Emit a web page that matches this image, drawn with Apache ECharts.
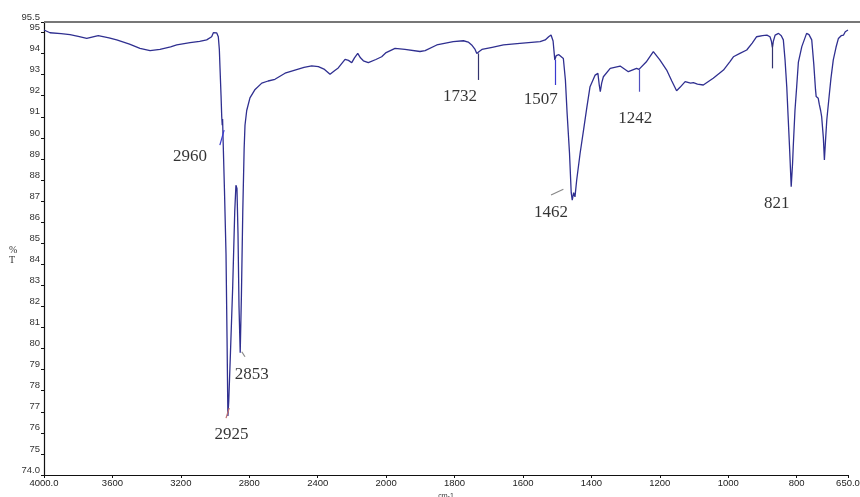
<!DOCTYPE html>
<html>
<head>
<meta charset="utf-8">
<script src="https://cdn.jsdelivr.net/npm/echarts@6/dist/echarts.min.js"></script>
<style>html,body{margin:0;padding:0;background:#fff}#c{width:860px;height:497px}</style>
</head>
<body>
<div id="c"></div>
<script>
// wavenumber (cm-1)
var wavenumbers = [4000,3965,3900,3848,3800,3750,3683,3620,3575,3500,3439,3380,3322,3260,3224,3146,3090,3049,3020,3010,2999,2990,2981,2975,2971,2965,2961,2958,2956,2953,2945,2936,2930,2925,2920,2910,2897,2885,2878,2872,2866,2860,2853,2846,2838,2830,2825,2815,2796,2766,2727,2690,2650,2591,2533,2480,2435,2396,2360,2328,2300,2280,2240,2220,2201,2185,2166,2150,2133,2104,2060,2026,2000,1974,1945,1901,1886,1852,1804,1774,1760,1750,1740,1735,1728,1720,1690,1657,1609,1550,1535,1525,1518,1512,1507,1503,1495,1490,1482,1476,1471,1464,1459,1456,1452,1448,1443,1433,1423,1413,1404,1389,1381,1377,1374,1370,1365,1345,1316,1292,1268,1261,1240,1219,1200,1180,1165,1151,1141,1126,1110,1102,1090,1073,1044,1014,995,985,966,946,930,917,900,887,878,874,871,868,863,853,845,839,834,829,825,821,816,812,810,805,800,795,785,771,764,756,750,745,743,740,737,734,730,727,722,719,716,712,705,700,693,685,678,670,663,660,658,654,650];
// transmittance (%T)
var transmittance = [95.12,94.99,94.95,94.90,94.82,94.72,94.85,94.75,94.65,94.45,94.25,94.14,94.20,94.32,94.41,94.52,94.58,94.65,94.80,94.99,95.04,94.98,94.80,94.2,93.3,92.0,91.0,90.6,90.9,89.9,87.5,84.5,80.5,76.8,77.5,79.8,82.9,86.5,87.75,87.6,85.5,82.0,79.8,82.5,86.5,89.5,90.6,91.3,91.9,92.3,92.6,92.7,92.78,93.07,93.22,93.35,93.42,93.38,93.25,93.02,93.2,93.32,93.73,93.68,93.57,93.8,94.01,93.8,93.66,93.57,93.72,93.85,94.05,94.25,94.2,94.1,94.14,94.41,94.57,94.61,94.55,94.41,94.2,94.0,94.1,94.2,94.3,94.41,94.49,94.57,94.65,94.8,94.88,94.6,93.7,93.9,93.95,93.93,93.77,92.75,91.17,89.27,87.4,87.05,87.4,87.2,88.0,89.27,90.37,91.48,92.43,92.98,93.06,92.5,92.19,92.6,92.9,93.3,93.41,93.14,93.3,93.25,93.6,94.09,93.7,93.22,92.7,92.24,92.4,92.67,92.6,92.62,92.55,92.51,92.83,93.22,93.62,93.85,94.01,94.17,94.5,94.8,94.85,94.88,94.8,94.6,94.3,94.6,94.88,94.96,94.85,94.65,93.7,92.43,91.0,89.6,87.68,88.8,89.59,91.3,92.43,93.6,94.33,94.96,94.9,94.65,93.5,92.3,91.96,92.0,91.88,91.6,91.3,91.01,90.0,88.95,89.8,90.85,92.0,92.8,93.7,94.3,94.72,94.85,94.88,94.95,95.04,95.0,95.12];

// x tick labels (wavenumbers at which ticks are drawn)
var xTickLabels = [4000,3600,3200,2800,2400,2000,1800,1600,1400,1200,1000,800,650];
// y tick labels
var yTickLabels = [74,75,76,77,78,79,80,81,82,83,84,85,86,87,88,89,90,91,92,93,94,95,95.5];

// peak annotation texts and their anchor (wavenumber, %T)
var peakTexts = ['2960','2853','2925','1732','1507','1242','1462','821'];
var peakTextWn = [3146,2786,2904,1784,1548,1272,1518,858];
var peakTextT  = [89.11,78.75,75.9,91.95,91.80,90.93,86.45,86.9];

// leader / marker segments
var segWn1 = [2972,2825,2936,1518,1732,1507,1261,871];
var segT1  = [89.66,79.61,76.7,87.29,94.01,93.70,93.25,94.49];
var segWn2 = [2947,2844,2917,1482,1732,1507,1261,871];
var segT2  = [90.37,79.85,77.18,87.56,92.75,92.51,92.19,93.30];
var segColor = ['#3a3ad0','#888888','#c07070','#888888','#33336e','#3a3ad0','#5050c0','#33336e'];

// the instrument axis is expanded 2x below 2000 cm-1
function toU(w){ return w >= 2000 ? (4000 - w) / 2 : 1000 + (2000 - w); }
function fromU(u){ return u <= 1000 ? 4000 - 2 * u : 2000 - (u - 1000); }

var lineData = wavenumbers.map(function(w,i){ return [toU(w), transmittance[i]]; });
var textData = peakTexts.map(function(t,i){ return {value:[toU(peakTextWn[i]), peakTextT[i]], name:t}; });
var segData = segWn1.map(function(w,i){
  return [{coord:[toU(w), segT1[i]], lineStyle:{color:segColor[i], width:1.2, type:'solid'}},
          {coord:[toU(segWn2[i]), segT2[i]]}];
});

var chart = echarts.init(document.getElementById('c'), null, {renderer:'canvas'});
chart.setOption({
  animation:false,
  backgroundColor:'#ffffff',
  grid:{left:44, right:12, top:22, bottom:22, outerBoundsMode:'none', containLabel:false},
  graphic:[
    {type:'line', shape:{x1:44, y1:22, x2:860, y2:22}, style:{stroke:'#777', lineWidth:2}, z:10},
    {type:'text', left:9, top:245, style:{text:'%\nT', font:'10px "Liberation Serif"', fill:'#333', lineHeight:10, align:'center'}}
  ],
  xAxis:{
    type:'value', min:0, max:toU(650), interval:200, position:'bottom',
    axisLine:{lineStyle:{color:'#111', width:1.2}},
    axisTick:{show:true, length:3, lineStyle:{color:'#111'}},
    splitLine:{show:false},
    axisLabel:{fontSize:9.5, color:'#222', fontFamily:'Liberation Sans', margin:3,
      formatter:function(u){ var w = Math.round(fromU(u)); if (xTickLabels.indexOf(w) < 0) return ''; return (w===4000||w===650) ? w.toFixed(1) : String(w); }},
    name:'cm-1', nameLocation:'middle', nameGap:13,
    nameTextStyle:{fontSize:7, color:'#333', fontFamily:'Liberation Sans'}
  },
  yAxis:{
    type:'value', min:74, max:95.5, interval:1,
    axisLine:{show:true, lineStyle:{color:'#111', width:1.2}},
    axisTick:{show:true, length:3, lineStyle:{color:'#111'}},
    splitLine:{show:false},
    axisLabel:{fontSize:9.5, color:'#333', fontFamily:'Liberation Sans', margin:4, verticalAlign:'bottom', lineHeight:10,
      formatter:function(v){ if (yTickLabels.indexOf(v) < 0) return ''; return (v===74||v===95.5) ? v.toFixed(1) : String(v); }}
  },
  series:[{
    type:'line', data:lineData, showSymbol:false, symbol:'none',
    lineStyle:{color:'#2f2f90', width:1.3},
    markLine:{silent:true, symbol:['none','none'], label:{show:false}, data:segData},
    z:3
  },{
    type:'scatter', data:textData, symbolSize:0, silent:true,
    label:{show:true, position:'inside', formatter:function(p){ return p.name; },
      fontFamily:'Liberation Serif', fontSize:17, color:'#000'}
  }]
});
</script>
</body>
</html>
